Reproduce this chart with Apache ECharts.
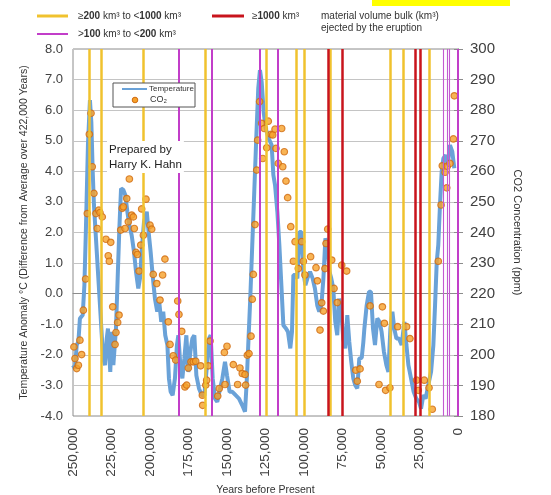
<!DOCTYPE html>
<html>
<head>
<meta charset="utf-8">
<script src="https://cdn.jsdelivr.net/npm/echarts@6/dist/echarts.min.js"></script>
<style>
html,body{margin:0;padding:0;background:#fff;}
#c{width:551px;height:495px;}
</style>
</head>
<body>
<div id="c"></div>
<script>
// Years before present in thousands (kyr)
const tempYears = [250,248.7,247.6,246.5,245.5,243.7,242.6,241.6,240.3,239,238.1,237.2,236.4,235.1,233.8,232.5,231.2,230.3,229.2,228.1,227.3,226.4,225.8,224.9,223.8,222.1,221,219.9,218.8,217.3,216,214.7,213.4,211.9,210.4,209.1,207.6,206.5,205.4,203.9,202.1,200.9,199.6,198.3,196.8,195.3,194,192.7,191.4,190.1,188.7,187.7,186.6,185.3,183.8,182.5,181.6,180.3,179,177.7,176.4,175.1,173.8,172.5,171.2,169.9,168.2,166.4,164.7,163,161.7,160.6,159.3,157.8,156.3,154.5,153,151.3,150,148.3,146.5,144.4,142.2,140.1,138.3,137.2,136.2,134.9,133.6,132.3,131,129.7,128.6,127.5,126.2,124.9,124.2,123.2,121,119.9,118.8,117.3,116,114.7,113.4,111.7,110.4,108.9,107.8,106.9,105.6,104.3,103,101.7,100.4,99.1,97.8,96.1,94.4,92.9,91.4,90.1,88.7,87.4,86.1,84.8,83.5,82.3,81,79.7,78.4,77.1,75.8,74.5,73.2,71.9,70.6,69.3,68,66.7,65.4,64.1,62.5,61.5,60.8,59.3,57.8,56.5,55.2,53.9,52.4,50.9,49.6,48.1,46.5,45.2,43.9,42.6,41.4,40,38.3,36.6,34.8,33.5,32.2,30.5,28.8,27.1,25.3,24,22.5,21,19.3,17.5,16,14.9,13.8,12.8,11.7,10.6,9.5,8,6.7,5.2,3.7,2.4];
const tempValues = [-2.34,-2.45,-1.68,-1.57,-0.81,-0.70,0.28,2.13,4.86,6.33,5.62,3.99,2.90,1.81,0.72,-0.37,-1.47,-2.12,-2.34,-1.47,-1.14,-2.01,-2.56,-1.25,-2.34,-1.14,0.5,2.13,3.44,3.39,3.22,2.68,2.24,1.91,1.37,0.72,0.17,0.50,1.37,2.35,2.68,2.02,1.37,0.61,-0.16,-0.59,-0.27,-0.92,-0.59,-1.36,-1.68,-2.77,-3.21,-3.32,-2.77,-1.68,-1.36,-2.34,-2.77,-2.12,-1.36,-2.56,-1.90,-1.47,-1.36,-2.67,-3.10,-3.32,-3.32,-2.34,-1.47,-1.36,-2.77,-3.43,-3.54,-3.10,-2.77,-2.23,-2.67,-3.21,-3.21,-3.32,-3.43,-3.65,-3.86,-2.88,-1.68,-0.16,1.59,3.33,5.08,6.71,7.31,6.93,5.95,5.40,5.30,5.10,4.86,3.88,3.55,2.68,1.59,0.28,-1.03,-1.14,-1.25,-1.79,-1.25,0.61,0.61,0.50,2.02,2.02,0.72,0.28,0.50,0.72,0.50,0.17,-0.38,-0.59,-0.38,0.50,1.81,1.59,0.72,0.50,0.17,-0.92,-1.36,-0.16,-0.59,-1.47,-1.79,-0.70,-1.57,-2.23,-2.77,-2.99,-3.10,-2.12,-2.10,-1.60,-1.14,-0.38,0.06,0.06,-1.14,-1.68,-0.81,-0.92,-1.25,-1.90,-2.34,-2.56,-1.14,-0.59,-1.14,-1.47,-1.47,-1.68,-0.92,-1.68,-2.34,-2.77,-3.21,-3.43,-3.54,-3.76,-3.32,-3.43,-2.99,-2.56,-1.68,-0.38,1.04,1.59,2.90,3.99,4.42,4.53,4.20,4.86,4.64,4.10];

const co2Years = [249.4,248.7,247.6,246.5,245.5,244.4,243.3,241.8,240.7,239.4,238.3,237.5,236.4,235.1,234.2,233.3,232.5,231,228.6,227.1,226.4,225.5,224.2,222.7,222.1,221,220.1,219,218,217.3,216.2,215.1,214.1,213.4,211.9,210.8,210.2,209.1,208.2,207.1,206,205.4,204.3,202.6,200,198.9,197.9,195.6,193.5,191.8,190.3,188.1,187,184.9,183.3,182,181.2,179.4,177.3,176.2,175.1,173.4,171.9,170.3,167.1,166,165.8,163.8,163.2,162.1,161,156,155,151.7,151.3,150,145.9,143.1,141.6,140.1,138.3,137.9,136.8,135.7,134.4,133.6,132.9,131.8,130.7,130.1,128.8,127.5,126.8,125.8,124.2,123.2,121.4,120.3,118.8,118.2,116.7,114.5,113.8,112.8,111.7,110.6,108.6,106.9,105.8,103.7,101.5,100.4,99.4,95.7,92.2,91.3,89.6,88.5,87.4,86.4,85.7,84.6,82,80.5,78.4,75.5,72.3,66.4,65.4,63.6,57.1,51.3,49.1,47.8,47,44.2,39.2,33.4,31.2,26.9,25.8,21.9,18.8,16.7,12.8,11,10.2,8.4,7.3,6.9,5.2,3,2.4];
const co2Values = [202.6,198.8,195.5,196.6,204.8,200.1,214.6,224.8,246.2,272.1,279,261.5,252.8,246.2,241.3,247.3,246.5,245.1,237.8,232.4,230.6,236.8,215.7,203.4,207.3,210.6,213,240.8,247.9,248.4,241.3,251.1,243.5,257.5,245.7,245.1,241.3,233.5,232.8,227.4,235.9,247.7,239.1,250.9,242.4,241.1,226.3,223.3,217.9,226.1,231.3,210.8,203.4,199.7,198.3,217.6,213.2,207.7,189.5,190.1,195.7,197.7,197.7,197.9,196.4,186.8,183.5,190.1,191.7,196.4,204.5,186.5,189,200.8,190.3,202.8,196.8,190.3,195.7,193.9,193.6,190.1,199.9,200.4,206.1,218.2,226.3,242.6,260.4,270.2,282.8,275.7,264.2,274,267.7,276.4,272.1,271.9,273.8,267.5,262.6,274,261.5,266.4,256.8,251.4,241.9,230.6,237,228.2,237,230.6,226.1,232.1,228.5,224.2,208.1,217,214.3,228.2,236.4,241.1,231,221.7,217.1,229.3,227.4,195,191.4,195.4,216,190.3,215.7,210.3,188.4,189.2,209.2,209.2,205.3,191.7,188.4,191.7,189.2,182.2,230.6,249,261.8,259.7,254.6,261.7,262.6,270.6,284.7];

// Eruption markers (kyr before present)
const eruptYellow = [239.4,231.8,204.3,164.3,124.8,105.2,99.8,82.7,44.2,35.5,18.8];
const eruptMagenta = [181.2,160,129,117.3,0.3];
const eruptMagentaThin = [9.9,7.3,5.8];
const eruptRed = [84.2,74.9,27.9,24.7];

const xTicks = {min:0, max:250, interval:25};
const tempTicks = {min:-4, max:8, interval:1};
const co2Ticks = {min:180, max:300, interval:10};

const YEL='#f0c22e', MAG='#c23ec9', RED='#c8141c', BLUE='#6aa2d8', ORANGE='#f6a12a', ORANGE_B='#d06a10';
const FONT='Liberation Sans, Arial, sans-serif';

const chart = echarts.init(document.getElementById('c'), null, {renderer:'canvas'});

const markData = [];
eruptYellow.forEach(v=>markData.push({xAxis:v, lineStyle:{color:YEL, width:2.5, type:'solid'}}));
eruptMagenta.forEach(v=>markData.push({xAxis:v, lineStyle:{color:MAG, width:2, type:'solid'}}));
eruptMagentaThin.forEach(v=>markData.push({xAxis:v, lineStyle:{color:'#c35ad2', width:1.1, type:'solid'}}));
eruptRed.forEach(v=>markData.push({xAxis:v, lineStyle:{color:RED, width:2.5, type:'solid'}}));

const option = {
  animation:false,
  backgroundColor:'#fff',
  textStyle:{fontFamily:FONT},
  grid:{left:73, right:93, top:49, bottom:79, show:true, borderColor:'#8c8c8c', borderWidth:1, outerBoundsMode:'none', containLabel:false},
  xAxis:{
    type:'value', min:xTicks.min, max:xTicks.max, interval:xTicks.interval, inverse:true,
    name:'Years before Present', nameLocation:'middle', nameGap:68,
    nameTextStyle:{fontSize:10.5, color:'#333', fontFamily:FONT},
    axisLine:{show:true, lineStyle:{color:'#8c8c8c'}},
    axisTick:{show:false},
    splitLine:{show:false},
    axisLabel:{rotate:90, margin:12, fontSize:13.5, color:'#404040', fontFamily:FONT,
      formatter:v=>Math.round(v*1000).toLocaleString('en-US')}
  },
  yAxis:[{
    type:'value', min:tempTicks.min, max:tempTicks.max, interval:tempTicks.interval, position:'left',
    name:'Temperature Anomaly °C (Difference from Average over 422,000 Years)',
    nameLocation:'middle', nameGap:42, nameRotate:90,
    nameTextStyle:{fontSize:10.5, color:'#333', fontFamily:FONT},
    axisLine:{show:true, lineStyle:{color:'#8c8c8c'}},
    axisTick:{show:true, length:4, lineStyle:{color:'#8c8c8c'}},
    splitLine:{show:true, lineStyle:{color:'#c4c4c4', width:1}},
    axisLabel:{margin:10, fontSize:13, color:'#404040', fontFamily:FONT, formatter:v=>v.toFixed(1)}
  },{
    type:'value', min:co2Ticks.min, max:co2Ticks.max, interval:co2Ticks.interval, position:'right',
    name:'CO2 Concentration (ppm)', nameLocation:'middle', nameGap:54, nameRotate:-90,
    nameTextStyle:{fontSize:11, color:'#333', fontFamily:FONT},
    axisLine:{show:true, lineStyle:{color:'#8c8c8c'}},
    axisTick:{show:true, length:5, lineStyle:{color:'#8c8c8c'}},
    splitLine:{show:false},
    axisLabel:{margin:12, fontSize:15, color:'#404040', fontFamily:FONT}
  }],
  series:[
    {
      name:'Temperature', type:'line', xAxisIndex:0, yAxisIndex:0, z:2,
      data:tempYears.map((y,i)=>[y,tempValues[i]]),
      showSymbol:false, symbol:'none', smooth:false,
      lineStyle:{color:BLUE, width:4}, itemStyle:{color:BLUE}
    },
    {
      name:'eruptions', type:'line', xAxisIndex:0, yAxisIndex:0, z:3, data:[],
      markLine:{silent:true, symbol:['none','none'], label:{show:false}, data:markData, animation:false}
    },
    {
      name:'CO₂', type:'scatter', xAxisIndex:0, yAxisIndex:1, z:4,
      data:co2Years.map((y,i)=>[y,co2Values[i]]),
      symbol:'circle', symbolSize:6.5,
      itemStyle:{color:ORANGE, borderColor:ORANGE_B, borderWidth:1.2}
    }
  ],
  graphic:[
    // top highlight remnant
    {type:'rect', shape:{x:372,y:0,width:138,height:6}, style:{fill:'#ffff00'}, z:100},
    // top legend
    {type:'line', shape:{x1:37,y1:16,x2:68,y2:16}, style:{stroke:YEL, lineWidth:3}, z:100},
    {type:'text', x:78, y:16, z:100, style:{text:'≥{b|200} km³ to <{b|1000} km³', fontSize:10, fill:'#333', fontFamily:FONT, verticalAlign:'middle', rich:{b:{fontSize:10, fontWeight:'bold', fill:'#333', fontFamily:FONT}}}},
    {type:'line', shape:{x1:212,y1:16,x2:244,y2:16}, style:{stroke:RED, lineWidth:3}, z:100},
    {type:'text', x:252, y:16, z:100, style:{text:'≥{b|1000} km³', fontSize:10, fill:'#333', fontFamily:FONT, verticalAlign:'middle', rich:{b:{fontSize:10, fontWeight:'bold', fill:'#333', fontFamily:FONT}}}},
    {type:'text', x:321, y:16, z:100, style:{text:'material volume bulk (km³)', fontSize:10, fill:'#333', fontFamily:FONT, verticalAlign:'middle'}},
    {type:'text', x:321, y:28, z:100, style:{text:'ejected by the eruption', fontSize:10, fill:'#333', fontFamily:FONT, verticalAlign:'middle'}},
    {type:'line', shape:{x1:37,y1:34,x2:68,y2:34}, style:{stroke:MAG, lineWidth:2}, z:100},
    {type:'text', x:78, y:34, z:100, style:{text:'>{b|100} km³ to <{b|200} km³', fontSize:10, fill:'#333', fontFamily:FONT, verticalAlign:'middle', rich:{b:{fontSize:10, fontWeight:'bold', fill:'#333', fontFamily:FONT}}}},
    // inner legend
    {type:'rect', shape:{x:113,y:83,width:82,height:24}, style:{fill:'#fff', stroke:'#555', lineWidth:1}, z:100},
    {type:'line', shape:{x1:122,y1:89,x2:147,y2:89}, style:{stroke:BLUE, lineWidth:2}, z:101},
    {type:'text', x:149, y:89, z:101, style:{text:'Temperature', fontSize:8, fill:'#333', fontFamily:FONT, verticalAlign:'middle'}},
    {type:'circle', shape:{cx:135,cy:100,r:2.8}, style:{fill:ORANGE, stroke:ORANGE_B, lineWidth:1}, z:101},
    {type:'text', x:150, y:100, z:101, style:{text:'CO₂', fontSize:9, fill:'#333', fontFamily:FONT, verticalAlign:'middle'}},
    // author note
    {type:'text', x:107, y:141, z:100, style:{text:'Prepared by\nHarry K. Hahn', fontSize:11.5, lineHeight:15, fill:'#222', fontFamily:FONT, backgroundColor:'#fff', padding:[1,2,1,2]}}
  ]
};
chart.setOption(option);
</script>
</body>
</html>
